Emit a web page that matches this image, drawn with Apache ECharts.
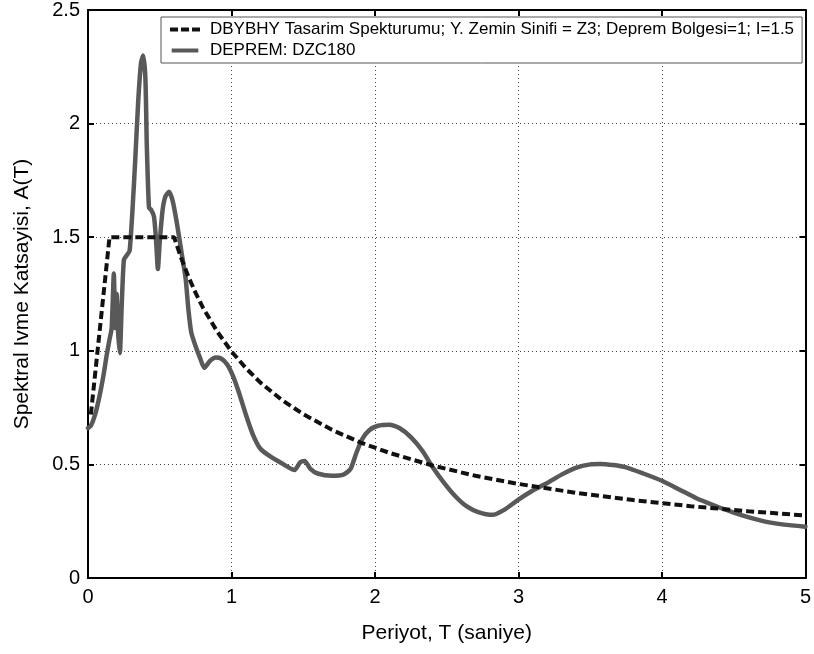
<!DOCTYPE html>
<html>
<head>
<meta charset="utf-8">
<title>Spektral Ivme Katsayisi</title>
<script src="https://cdn.jsdelivr.net/npm/echarts@6/dist/echarts.min.js"></script>
<style>
  html, body { margin: 0; padding: 0; background: #fff; }
  #chart { width: 814px; height: 654px; }
</style>
</head>
<body>
<div id="chart"></div>
<script>
// Design spectrum (DBYBHY, Z3, zone 1, I=1.5): period T [s], A(T)
const designT = [0.02, 0.15, 0.30, 0.45, 0.60, 0.65, 0.70, 0.75, 0.80, 0.90, 1.00, 1.10, 1.20, 1.35, 1.50, 1.70, 1.90, 2.10, 2.40, 2.70, 3.00, 3.40, 3.80, 4.20, 4.60, 5.00];
const designA = [0.72, 1.50, 1.50, 1.50, 1.50, 1.407, 1.326, 1.255, 1.191, 1.085, 0.997, 0.924, 0.861, 0.784, 0.721, 0.652, 0.596, 0.551, 0.495, 0.450, 0.414, 0.375, 0.343, 0.316, 0.294, 0.275];

// Response spectrum of record DZC180: period T [s], A(T)
const quakeT = [0.00, 0.02, 0.05, 0.08, 0.11, 0.13, 0.15, 0.165, 0.18, 0.19, 0.20, 0.21, 0.222, 0.235, 0.25, 0.27, 0.29, 0.31, 0.33, 0.35, 0.37, 0.385, 0.40, 0.41, 0.425, 0.44, 0.46, 0.475, 0.487, 0.50, 0.52, 0.54, 0.565, 0.59, 0.62, 0.65, 0.68, 0.70, 0.72, 0.75, 0.78, 0.81, 0.85, 0.89, 0.93, 0.97, 1.01, 1.05, 1.10, 1.15, 1.20, 1.27, 1.35, 1.44, 1.48, 1.51, 1.55, 1.60, 1.70, 1.78, 1.83, 1.87, 1.91, 1.96, 2.02, 2.10, 2.17, 2.25, 2.33, 2.40, 2.48, 2.56, 2.64, 2.72, 2.82, 2.90, 3.00, 3.10, 3.20, 3.30, 3.40, 3.50, 3.57, 3.66, 3.75, 3.87, 4.00, 4.12, 4.24, 4.37, 4.49, 4.60, 4.72, 4.85, 5.00];
const quakeA = [0.66, 0.67, 0.72, 0.80, 0.90, 0.98, 1.05, 1.10, 1.34, 1.10, 1.25, 1.08, 0.99, 1.20, 1.40, 1.42, 1.44, 1.62, 1.85, 2.10, 2.27, 2.30, 2.20, 1.90, 1.63, 1.62, 1.59, 1.48, 1.36, 1.48, 1.62, 1.68, 1.70, 1.66, 1.56, 1.44, 1.32, 1.18, 1.08, 1.02, 0.97, 0.925, 0.955, 0.97, 0.965, 0.94, 0.89, 0.82, 0.72, 0.63, 0.57, 0.535, 0.505, 0.475, 0.51, 0.515, 0.48, 0.46, 0.45, 0.455, 0.48, 0.55, 0.61, 0.65, 0.67, 0.675, 0.66, 0.62, 0.56, 0.49, 0.42, 0.36, 0.315, 0.29, 0.278, 0.30, 0.345, 0.385, 0.418, 0.455, 0.485, 0.50, 0.502, 0.497, 0.487, 0.46, 0.428, 0.39, 0.351, 0.318, 0.29, 0.268, 0.248, 0.235, 0.226];

const xTicks = [0, 1, 2, 3, 4, 5];
const yTicks = [0, 0.5, 1, 1.5, 2, 2.5];

const seriesNames = [
  'DBYBHY Tasarim Spekturumu; Y. Zemin Sinifi = Z3; Deprem Bolgesi=1; I=1.5',
  'DEPREM: DZC180'
];

const pairs = (xs, ys) => xs.map((x, i) => [x, ys[i]]);

const FONT = 'Liberation Sans, Arial, Helvetica, sans-serif';

// legend keys: three dashes for the design curve, a solid bar for the record
const dashIcon = 'path://M0,0h8v4h-8z M11,0h8v4h-8z M22,0h8v4h-8z';
const solidIcon = 'path://M0,0h30v4.5h-30z';

const boxAxis = {
  axisLine: { show: true, onZero: false, lineStyle: { color: '#000', width: 2 } },
  axisTick: { show: true, inside: true, length: 6, lineStyle: { color: '#000', width: 2 } },
  axisLabel: { show: false },
  splitLine: { show: false }
};

const chart = echarts.init(document.getElementById('chart'), null, { renderer: 'canvas' });

chart.setOption({
  animation: false,
  backgroundColor: '#fff',
  textStyle: { fontFamily: FONT },
  grid: { left: 88, right: 4, top: 10, bottom: 76, containLabel: false },
  legend: {
    orient: 'vertical',
    left: 161,
    top: 17,
    padding: [4, 8, 4, 9],
    itemGap: 4,
    itemWidth: 30,
    itemHeight: 4,
    backgroundColor: '#fff',
    borderColor: '#555',
    borderWidth: 1,
    borderRadius: 0,
    textStyle: { fontFamily: FONT, fontSize: 17, lineHeight: 16, color: '#000', width: 582, padding: [0, 0, 0, 5] },
    data: [
      { name: seriesNames[0], icon: dashIcon, itemStyle: { color: '#111' } },
      { name: seriesNames[1], icon: solidIcon, itemStyle: { color: '#595959' } }
    ]
  },
  xAxis: [
    {
      type: 'value',
      min: xTicks[0],
      max: xTicks[xTicks.length - 1],
      interval: 1,
      position: 'bottom',
      name: 'Periyot, T (saniye)',
      nameLocation: 'middle',
      nameGap: 45,
      nameTextStyle: { fontFamily: FONT, fontSize: 21, color: '#000' },
      axisLine: { show: true, onZero: false, lineStyle: { color: '#000', width: 2 } },
      axisTick: { show: true, inside: true, length: 6, lineStyle: { color: '#000', width: 2 } },
      axisLabel: { show: true, margin: 9, fontFamily: FONT, fontSize: 20, color: '#000' },
      splitLine: { show: true, lineStyle: { color: '#444', width: 1, type: [1, 3] } }
    },
    Object.assign({ type: 'value', min: 0, max: 5, interval: 1, position: 'top' }, boxAxis)
  ],
  yAxis: [
    {
      type: 'value',
      min: yTicks[0],
      max: yTicks[yTicks.length - 1],
      interval: 0.5,
      position: 'left',
      name: 'Spektral Ivme Katsayisi, A(T)',
      nameLocation: 'middle',
      nameGap: 55,
      nameTextStyle: { fontFamily: FONT, fontSize: 21, color: '#000' },
      axisLine: { show: true, onZero: false, lineStyle: { color: '#000', width: 2 } },
      axisTick: { show: true, inside: true, length: 6, lineStyle: { color: '#000', width: 2 } },
      axisLabel: { show: true, margin: 8, fontFamily: FONT, fontSize: 20, color: '#000' },
      splitLine: { show: true, lineStyle: { color: '#444', width: 1, type: [1, 3] } }
    },
    Object.assign({ type: 'value', min: 0, max: 2.5, interval: 0.5, position: 'right' }, boxAxis)
  ],
  series: [
    {
      name: seriesNames[0],
      type: 'line',
      xAxisIndex: 0,
      yAxisIndex: 0,
      data: pairs(designT, designA),
      showSymbol: false,
      symbol: 'none',
      smooth: false,
      lineStyle: { color: '#111', width: 4, type: [8, 4] },
      itemStyle: { color: '#111' },
      z: 3
    },
    {
      name: seriesNames[1],
      type: 'line',
      xAxisIndex: 0,
      yAxisIndex: 0,
      data: pairs(quakeT, quakeA),
      showSymbol: false,
      symbol: 'none',
      smooth: 0.2,
      lineStyle: { color: '#595959', width: 4.5, join: 'round', cap: 'round' },
      itemStyle: { color: '#595959' },
      z: 2
    }
  ]
});
</script>
</body>
</html>
